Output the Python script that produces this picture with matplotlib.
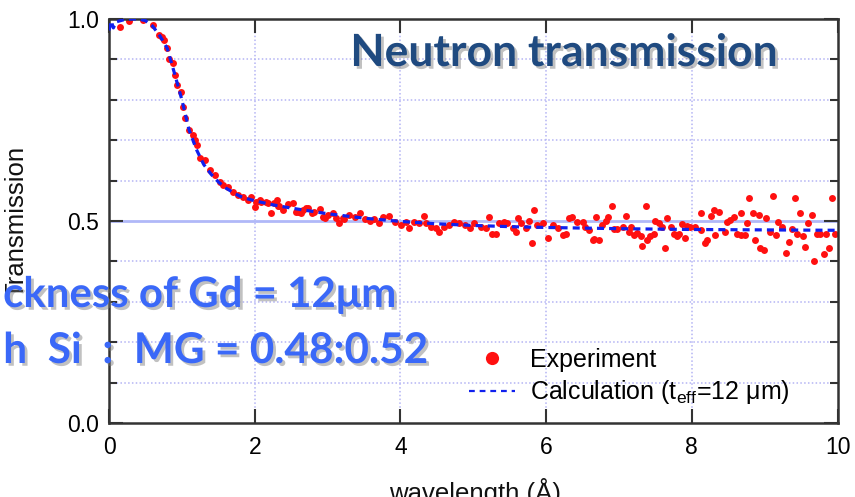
import matplotlib
matplotlib.use("Agg")
import matplotlib.pyplot as plt
import matplotlib.patheffects as pe
from matplotlib.ticker import MultipleLocator
from matplotlib.lines import Line2D

# Measured transmission (wavelength in Angstrom, transmission)
exp_wavelength = [
    0.15, 0.27, 0.47, 0.60, 0.68, 0.73, 0.76, 0.79, 0.82, 0.88, 0.90, 0.93, 0.99,
    1.02, 1.05, 1.10, 1.15, 1.18, 1.21, 1.25, 1.32, 1.38, 1.45, 1.52, 1.57, 1.63,
    1.70, 1.77, 1.84, 1.91, 1.95, 2.00, 2.02, 2.07, 2.09, 2.16, 2.18, 2.23, 2.27,
    2.30, 2.32, 2.34, 2.39, 2.46, 2.52, 2.57, 2.59, 2.64, 2.66, 2.71, 2.73, 2.78,
    2.82, 2.89, 2.94, 2.96, 3.00, 3.07, 3.12, 3.16, 3.21, 3.23, 3.30, 3.37, 3.44,
    3.51, 3.58, 3.64, 3.71, 3.76, 3.85,
    3.92, 4.01, 4.08, 4.12, 4.19, 4.26, 4.33, 4.35, 4.42, 4.49, 4.53, 4.60, 4.67,
    4.74, 4.81, 4.88, 4.95, 5.01, 5.11, 5.17, 5.21, 5.26, 5.31, 5.36, 5.42, 5.47,
    5.54, 5.58, 5.61, 5.65, 5.72, 5.77, 5.80, 5.84, 5.88, 5.96, 6.03, 6.09, 6.16,
    6.23, 6.27, 6.32, 6.36, 6.43, 6.50, 6.54, 6.59, 6.65, 6.66, 6.68, 6.73, 6.77,
    6.82, 6.85, 6.90, 6.93, 6.98, 7.05, 7.09, 7.14, 7.17, 7.21, 7.25, 7.30, 7.32,
    7.37, 7.39, 7.43, 7.48, 7.50, 7.55, 7.59, 7.63, 7.66, 7.71, 7.75, 7.79, 7.82,
    7.86, 7.90, 7.94, 7.98, 8.05, 8.12, 8.13, 8.18, 8.21, 8.26, 8.30, 8.32, 8.37,
    8.45, 8.48, 8.53, 8.58, 8.62, 8.67, 8.68, 8.73, 8.76, 8.79, 8.84, 8.87, 8.92,
    8.94, 8.99, 9.02, 9.08, 9.11, 9.15, 9.19, 9.24, 9.29, 9.34, 9.37, 9.41, 9.45,
    9.49, 9.53, 9.56, 9.60, 9.65, 9.68, 9.72, 9.76, 9.81, 9.84, 9.88, 9.92, 9.96,
]
exp_transmission = [
    0.981, 0.996, 0.998, 0.985, 0.960, 0.956, 0.948, 0.927, 0.902, 0.890, 0.861, 0.837, 0.820,
    0.783, 0.754, 0.725, 0.713, 0.700, 0.688, 0.655, 0.651, 0.626, 0.614, 0.597, 0.589, 0.585,
    0.573, 0.564, 0.560, 0.552, 0.560, 0.535, 0.548, 0.552, 0.548, 0.548, 0.544, 0.519, 0.544,
    0.553, 0.536, 0.536, 0.527, 0.542, 0.545, 0.523, 0.523, 0.519, 0.527, 0.531, 0.531, 0.519,
    0.523, 0.529, 0.511, 0.507, 0.515, 0.519, 0.507, 0.496, 0.507, 0.504, 0.515, 0.509, 0.519,
    0.504, 0.500, 0.504, 0.494, 0.509, 0.512,
    0.498, 0.490, 0.498, 0.482, 0.498, 0.494, 0.512, 0.494, 0.486, 0.482, 0.474, 0.486, 0.490,
    0.498, 0.494, 0.490, 0.482, 0.494, 0.486, 0.482, 0.509, 0.469, 0.469, 0.494, 0.498, 0.494,
    0.482, 0.474, 0.507, 0.494, 0.482, 0.500, 0.446, 0.526, 0.490, 0.496, 0.459, 0.490, 0.482,
    0.465, 0.468, 0.507, 0.511, 0.498, 0.498, 0.486, 0.478, 0.453, 0.455, 0.511, 0.453, 0.490,
    0.500, 0.511, 0.537, 0.479, 0.479, 0.486, 0.512, 0.474, 0.484, 0.465, 0.471, 0.462, 0.438,
    0.537, 0.453, 0.462, 0.469, 0.499, 0.494, 0.486, 0.432, 0.507, 0.486, 0.469, 0.463, 0.469,
    0.492, 0.457, 0.488, 0.484, 0.484, 0.478, 0.520, 0.446, 0.453, 0.512, 0.526, 0.465, 0.523,
    0.474, 0.498, 0.502, 0.511, 0.469, 0.465, 0.521, 0.465, 0.494, 0.556, 0.521, 0.453, 0.515,
    0.432, 0.427, 0.507, 0.474, 0.563, 0.465, 0.498, 0.486, 0.422, 0.449, 0.479, 0.558, 0.469,
    0.520, 0.463, 0.436, 0.494, 0.516, 0.401, 0.469, 0.469, 0.418, 0.469, 0.434, 0.556, 0.469,
]

# Calculated transmission for an effective Gd thickness of 12 um
calc_wavelength = [
    0.0, 0.03, 0.06, 0.1, 0.2, 0.3, 0.4, 0.5, 0.6, 0.7, 0.8, 0.9, 1.0, 1.1, 1.2,
    1.3, 1.4, 1.5, 1.6, 1.7, 1.8, 1.9, 2.0, 2.25, 2.5, 2.75, 3.0, 3.5, 4.0, 4.5,
    5.0, 5.5, 6.0, 7.0, 8.0, 9.0, 10.0,
]
calc_transmission = [
    0.972, 0.995, 0.978, 0.993, 0.998, 1.000, 1.000, 0.996, 0.982, 0.958, 0.927, 0.865, 0.800,
    0.725, 0.677, 0.640, 0.616, 0.597, 0.582, 0.571, 0.561, 0.555, 0.550, 0.540, 0.532, 0.525,
    0.518, 0.507, 0.499, 0.493, 0.489, 0.486, 0.484, 0.481, 0.479, 0.478, 0.477,
]

x_ticks = [0, 2, 4, 6, 8, 10]
y_ticks = [0.0, 0.5, 1.0]

W, H = 855, 497
fig = plt.figure(figsize=(W / 100, H / 100), dpi=100)
ax = fig.add_axes([109 / W, 1 - 423 / H, (837.5 - 109) / W, (423 - 19) / H])

label_font = "Liberation Sans"
grid_color = "#b4b4f4"

ax.set_xlim(0, 10)
ax.set_ylim(0, 1.0)
ax.set_xticks(x_ticks)
ax.set_yticks(y_ticks)
ax.set_xticklabels([str(v) for v in x_ticks])
ax.set_yticklabels([f"{v:.1f}" for v in y_ticks])
ax.yaxis.set_minor_locator(MultipleLocator(0.1))

ax.tick_params(which="both", direction="in", top=True, right=True,
               color="#333333", width=1.5)
ax.tick_params(which="major", length=10, labelsize=16.5)
ax.tick_params(axis="x", which="major", pad=9.5)
ax.tick_params(axis="y", which="major", pad=7)
ax.tick_params(which="minor", length=6)
for lab in ax.get_xticklabels() + ax.get_yticklabels():
    lab.set_fontfamily(label_font)
for s in ax.spines.values():
    s.set_color("#333333")
    s.set_linewidth(1.8)

# grid: dotted lines, with a solid line at 0.5
ax.grid(False)
for yv in [0.1, 0.2, 0.3, 0.4, 0.6, 0.7, 0.8, 0.9]:
    ax.axhline(yv, color=grid_color, lw=1.1, ls=(0, (1, 1.5)), zorder=0.5)
for xv in [2, 4, 6, 8]:
    ax.axvline(xv, color=grid_color, lw=1.1, ls=(0, (1, 1.5)), zorder=0.5)
ax.axhline(0.5, color="#b0b8f8", lw=2.0, zorder=0.6)

ax.plot(exp_wavelength, exp_transmission, "o", color="#ff1010", ms=5.0,
        mew=0, zorder=2)
ax.plot(calc_wavelength, calc_transmission, color="#1020ee", lw=2.3,
        ls=(0, (2.2, 1.6)), zorder=3)

handles = [
    Line2D([], [], marker="o", ls="none", color="#ff1010", ms=9.5, mew=0),
    Line2D([], [], color="#1020ee", lw=1.6, ls=(0, (2.6, 2.2))),
]
leg = ax.legend(handles, ["Experiment", "Calculation (t$_{\\mathregular{eff}}$=12 μm)"],
                loc="lower left", bbox_to_anchor=(0.47, -0.002), frameon=False,
                prop={"family": label_font, "size": 18}, handlelength=1.85,
                handletextpad=0.6, labelspacing=0.25, borderpad=0.2)

# axis titles (partly cut by the figure edge)
fig.text(28 / W, 1 - 222 / H, "Transmission", rotation=90, ha="right",
         va="center", fontsize=18.5, family=label_font, color="#111111")
fig.text(475 / W, 1 - 501 / H, "wavelength (Å)", ha="center", va="baseline",
         fontsize=18.5, family=label_font, color="#111111")

shadow = [pe.withSimplePatchShadow(offset=(2, -2), shadow_rgbFace="#777777",
                                   alpha=0.45)]
fig.text(778 / W, 1 - 66 / H, "Neutron transmission", ha="right", va="baseline",
         fontsize=32, fontweight="bold", family="Lato", color="#1f4a80",
         path_effects=shadow)
fig.text(395 / W, 1 - 307 / H, "ckness of Gd = 12μm", ha="right", va="baseline",
         fontsize=30.2, fontweight="bold", family="Lato", color="#3a68f8",
         path_effects=shadow)
fig.text(428 / W, 1 - 363 / H, "h  Si  :  MG = 0.48:0.52", ha="right", va="baseline",
         fontsize=30.5, fontweight="bold", family="Lato",
         color="#3a68f8", path_effects=shadow)

fig.savefig("out.png", dpi=100)
